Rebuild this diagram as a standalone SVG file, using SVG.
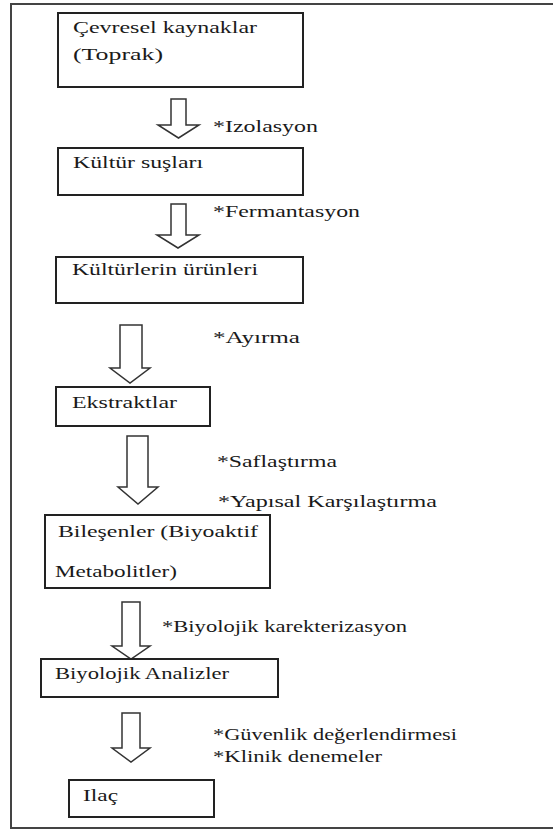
<svg xmlns="http://www.w3.org/2000/svg" width="553" height="833" viewBox="0 0 553 833" font-family="Liberation Serif, serif" font-size="16">
<style>
.bg{fill:#ffffff}
.frame{fill:none;stroke:#444;stroke-width:2}
.box{fill:#ffffff;stroke:#222;stroke-width:2}
.arrow{fill:#ffffff;stroke:#333;stroke-width:1.5;stroke-linejoin:miter}
.t{fill:#1a1a1a}
</style>
<rect class="bg" x="0" y="0" width="553" height="833"/>
<rect class="frame" x="11" y="4" width="560" height="824"/>

<g id="connectors">
  <polygon class="arrow" points="171,99 186,99 186,125 199,125 178.5,138 158,125 171,125"/>
  <polygon class="arrow" points="171,204 186,204 186,235 199,235 178,248 157,235 171,235"/>
  <polygon class="arrow" points="120,325 142,325 142,368 150,368 130,383 110,368 120,368"/>
  <polygon class="arrow" points="127,436 148,436 148,487 158,487 138,504 118,487 127,487"/>
  <polygon class="arrow" points="122,602 140,602 140,646 150,646 131,659 112,646 122,646"/>
  <polygon class="arrow" points="122,713 140,713 140,748 150,748 131,762 112,748 122,748"/>
  <text class="t" x="213" y="132" textLength="105" lengthAdjust="spacingAndGlyphs">*Izolasyon</text>
  <text class="t" x="213" y="217" textLength="147" lengthAdjust="spacingAndGlyphs">*Fermantasyon</text>
  <text class="t" x="213" y="343" textLength="87" lengthAdjust="spacingAndGlyphs">*Ayırma</text>
  <text class="t" x="217" y="467" textLength="120" lengthAdjust="spacingAndGlyphs">*Saflaştırma</text>
  <text class="t" x="218" y="507" textLength="219" lengthAdjust="spacingAndGlyphs">*Yapısal Karşılaştırma</text>
  <text class="t" x="162" y="632" textLength="245" lengthAdjust="spacingAndGlyphs">*Biyolojik karekterizasyon</text>
  <text class="t" x="213" y="740" textLength="244" lengthAdjust="spacingAndGlyphs">*Güvenlik değerlendirmesi</text>
  <text class="t" x="213" y="762" textLength="169" lengthAdjust="spacingAndGlyphs">*Klinik denemeler</text>
</g>

<g id="node-cevresel">
  <rect class="box" x="58" y="13" width="245" height="74"/>
  <text class="t" x="73" y="33" textLength="184" lengthAdjust="spacingAndGlyphs">Çevresel kaynaklar</text>
  <text class="t" x="73" y="60" textLength="90" lengthAdjust="spacingAndGlyphs">(Toprak)</text>
</g>
<g id="node-kultur-suslari">
  <rect class="box" x="58" y="148" width="245" height="47"/>
  <text class="t" x="73" y="168" textLength="130" lengthAdjust="spacingAndGlyphs">Kültür suşları</text>
</g>
<g id="node-kulturlerin-urunleri">
  <rect class="box" x="56" y="257" width="247" height="46"/>
  <text class="t" x="72" y="275" textLength="186" lengthAdjust="spacingAndGlyphs">Kültürlerin ürünleri</text>
</g>
<g id="node-ekstraktlar">
  <rect class="box" x="56" y="387" width="154" height="39"/>
  <text class="t" x="72" y="408" textLength="105" lengthAdjust="spacingAndGlyphs">Ekstraktlar</text>
</g>
<g id="node-bilesenler">
  <rect class="box" x="45" y="515" width="225" height="73"/>
  <text class="t" x="58" y="537" textLength="200" lengthAdjust="spacingAndGlyphs">Bileşenler (Biyoaktif</text>
  <text class="t" x="55" y="577" textLength="122" lengthAdjust="spacingAndGlyphs">Metabolitler)</text>
</g>
<g id="node-biyolojik-analizler">
  <rect class="box" x="41" y="659" width="237" height="38"/>
  <text class="t" x="55" y="679" textLength="174" lengthAdjust="spacingAndGlyphs">Biyolojik Analizler</text>
</g>
<g id="node-ilac">
  <rect class="box" x="69" y="780" width="145" height="37"/>
  <text class="t" x="83" y="801" textLength="35" lengthAdjust="spacingAndGlyphs">Ilaç</text>
</g>
</svg>
